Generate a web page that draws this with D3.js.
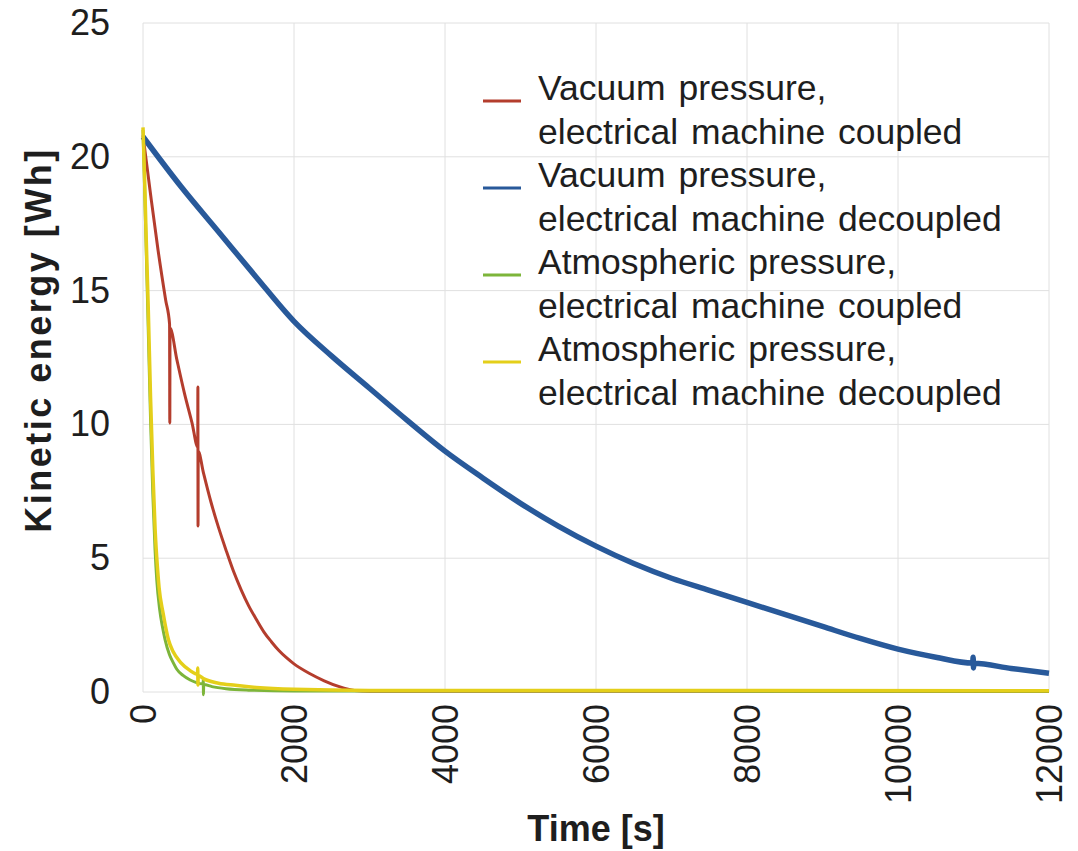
<!DOCTYPE html>
<html>
<head>
<meta charset="utf-8">
<script src="https://cdn.jsdelivr.net/npm/d3@7"></script>
<style>
  body { margin: 0; background: #ffffff; }
  text { font-family: Arial, "Liberation Sans", sans-serif; fill: #1e1e1e; }
</style>
</head>
<body>
<svg class="energy-chart" width="1078" height="851"></svg>
<script>
// readings taken off the figure, [time s, kinetic energy Wh]
const vacuumCoupled = [
  [0, 20.8], [100, 18.6], [200, 16.5], [300, 14.65], [352, 13.75], [355, 10.05], [358, 13.6],
  [450, 12.4], [550, 11.15], [650, 10.05], [725, 9.15], [727, 11.4], [729, 6.2], [731, 9.0],
  [800, 8.2], [900, 7.1], [1000, 6.15], [1100, 5.3], [1200, 4.5], [1300, 3.82], [1400, 3.22],
  [1500, 2.72], [1600, 2.25], [1700, 1.88], [1800, 1.55], [1900, 1.28], [2000, 1.05],
  [2200, 0.7], [2400, 0.42], [2600, 0.2], [2800, 0.06], [3000, 0.03], [12000, 0.02]
];
const vacuumDecoupled = [
  [0, 20.75], [500, 18.9], [1000, 17.2], [1500, 15.5], [2000, 13.85], [2500, 12.55],
  [3000, 11.35], [3500, 10.15], [4000, 9.0], [4500, 8.0], [5000, 7.05], [5500, 6.2],
  [6000, 5.45], [6500, 4.8], [7000, 4.25], [7500, 3.8], [8000, 3.35], [8500, 2.9],
  [9000, 2.45], [9500, 2.0], [10000, 1.6], [10500, 1.3], [10990, 1.08], [10995, 1.3],
  [11000, 0.9], [11005, 1.07], [11500, 0.88], [12000, 0.7]
];
const atmosphericCoupled = [
  [0, 21.0], [20, 19.0], [40, 16.8], [70, 13.5], [100, 10.2], [130, 7.4], [160, 5.3],
  [182, 4.2], [220, 3.1], [260, 2.4], [293, 1.95], [350, 1.4], [400, 1.1], [448, 0.85],
  [530, 0.62], [625, 0.45], [700, 0.36], [795, 0.3], [798, 0.45], [801, -0.1], [804, 0.28],
  [913, 0.2], [1100, 0.12], [1400, 0.07], [2000, 0.04], [12000, 0.03]
];
const atmosphericDecoupled = [
  [0, 21.1], [20, 19.3], [40, 17.2], [70, 14.3], [100, 11.0], [130, 8.3], [160, 6.1],
  [190, 4.7], [213, 3.9], [266, 2.95], [337, 1.95], [400, 1.5], [500, 1.1], [625, 0.8],
  [722, 0.66], [725, 0.9], [728, 0.26], [731, 0.62], [800, 0.5], [1000, 0.33], [1223, 0.25],
  [1500, 0.17], [2000, 0.1], [3000, 0.06], [12000, 0.05]
];

const seriesNames = [
  ['Vacuum pressure,', 'electrical machine coupled'],
  ['Vacuum pressure,', 'electrical machine decoupled'],
  ['Atmospheric pressure,', 'electrical machine coupled'],
  ['Atmospheric pressure,', 'electrical machine decoupled']
];
const seriesColors = ['#b43d2d', '#28599a', '#7db53a', '#e4cf1a'];
const seriesWidths = [3, 5.5, 3, 3.5];
const xTicks = [0, 2000, 4000, 6000, 8000, 10000, 12000];
const yTicks = [0, 5, 10, 15, 20, 25];

const chart = d3.select('.energy-chart');
const plotLeft = 143, plotRight = 1049, plotTop = 23, plotBottom = 692;

const x = d3.scaleLinear().domain([0, 12000]).range([plotLeft, plotRight]);
const y = d3.scaleLinear().domain([0, 25]).range([plotBottom, plotTop]);

// grid
const grid = chart.append('g').attr('class', 'grid');
grid.selectAll('line.v')
  .data(xTicks)
  .enter()
  .append('line')
  .attr('class', 'v')
  .attr('x1', d => x(d)).attr('x2', d => x(d))
  .attr('y1', plotTop).attr('y2', plotBottom)
  .attr('stroke', '#e0e0e0')
  .attr('stroke-width', 1);
grid.selectAll('line.h')
  .data(yTicks)
  .enter()
  .append('line')
  .attr('class', 'h')
  .attr('x1', plotLeft).attr('x2', plotRight)
  .attr('y1', d => y(d)).attr('y2', d => y(d))
  .attr('stroke', '#e0e0e0')
  .attr('stroke-width', 1);

// y axis labels
const yAxis = chart.append('g')
  .attr('transform', 'translate(' + plotLeft + ',0)')
  .call(d3.axisLeft(y).tickValues(yTicks).tickSize(0).tickPadding(33));
yAxis.select('.domain').remove();
yAxis.selectAll('text')
  .style('font-size', '36px')
  .style('fill', '#1e1e1e');

// x axis labels, rotated
const xAxis = chart.append('g')
  .attr('transform', 'translate(0,' + plotBottom + ')')
  .call(d3.axisBottom(x).tickValues(xTicks).tickSize(0).tickFormat(d3.format('d')));
xAxis.select('.domain').remove();
xAxis.selectAll('text')
  .style('font-size', '36px')
  .style('fill', '#1e1e1e')
  .attr('text-anchor', 'end')
  .attr('dy', '0.35em')
  .attr('transform', 'translate(0,12) rotate(-90)')
  .attr('x', 0)
  .attr('y', 0);
chart.selectAll('.tick text').attr('font-family', null);

// axis titles
chart.append('text')
  .attr('x', (plotLeft + plotRight) / 2)
  .attr('y', 841)
  .attr('text-anchor', 'middle')
  .style('font-size', '36px')
  .style('font-weight', 'bold')
  .text('Time [s]');
chart.append('text')
  .attr('transform', 'translate(51,340) rotate(-90)')
  .attr('text-anchor', 'middle')
  .style('font-size', '36px')
  .style('font-weight', 'bold')
  .style('letter-spacing', '2.5px')
  .text('Kinetic energy [Wh]');

// curves
const line = d3.line()
  .x(d => x(d[0]))
  .y(d => y(d[1]))
  .curve(d3.curveMonotoneX);
const allSeries = [vacuumCoupled, vacuumDecoupled, atmosphericCoupled, atmosphericDecoupled];
chart.append('g')
  .attr('class', 'curves')
  .selectAll('path')
  .data(allSeries)
  .enter()
  .append('path')
  .attr('fill', 'none')
  .attr('stroke', (d, i) => seriesColors[i])
  .attr('stroke-width', (d, i) => seriesWidths[i])
  .attr('stroke-linejoin', 'round')
  .attr('d', line);

// legend
const legend = chart.append('g')
  .attr('class', 'legend')
  .selectAll('g')
  .data(seriesNames)
  .enter()
  .append('g')
  .attr('transform', (d, i) => 'translate(0,' + (88 + i * 87) + ')');
legend.append('line')
  .attr('x1', 483).attr('x2', 521)
  .attr('y1', 13).attr('y2', 13)
  .attr('stroke', (d, i) => seriesColors[i])
  .attr('stroke-width', 3);
legend.selectAll('text')
  .data(d => d)
  .enter()
  .append('text')
  .attr('x', 538)
  .attr('y', (d, j) => j * 43.5)
  .attr('dy', '0.35em')
  .style('font-size', '35.5px')
  .style('word-spacing', '3px')
  .text(d => d);
</script>
</body>
</html>
